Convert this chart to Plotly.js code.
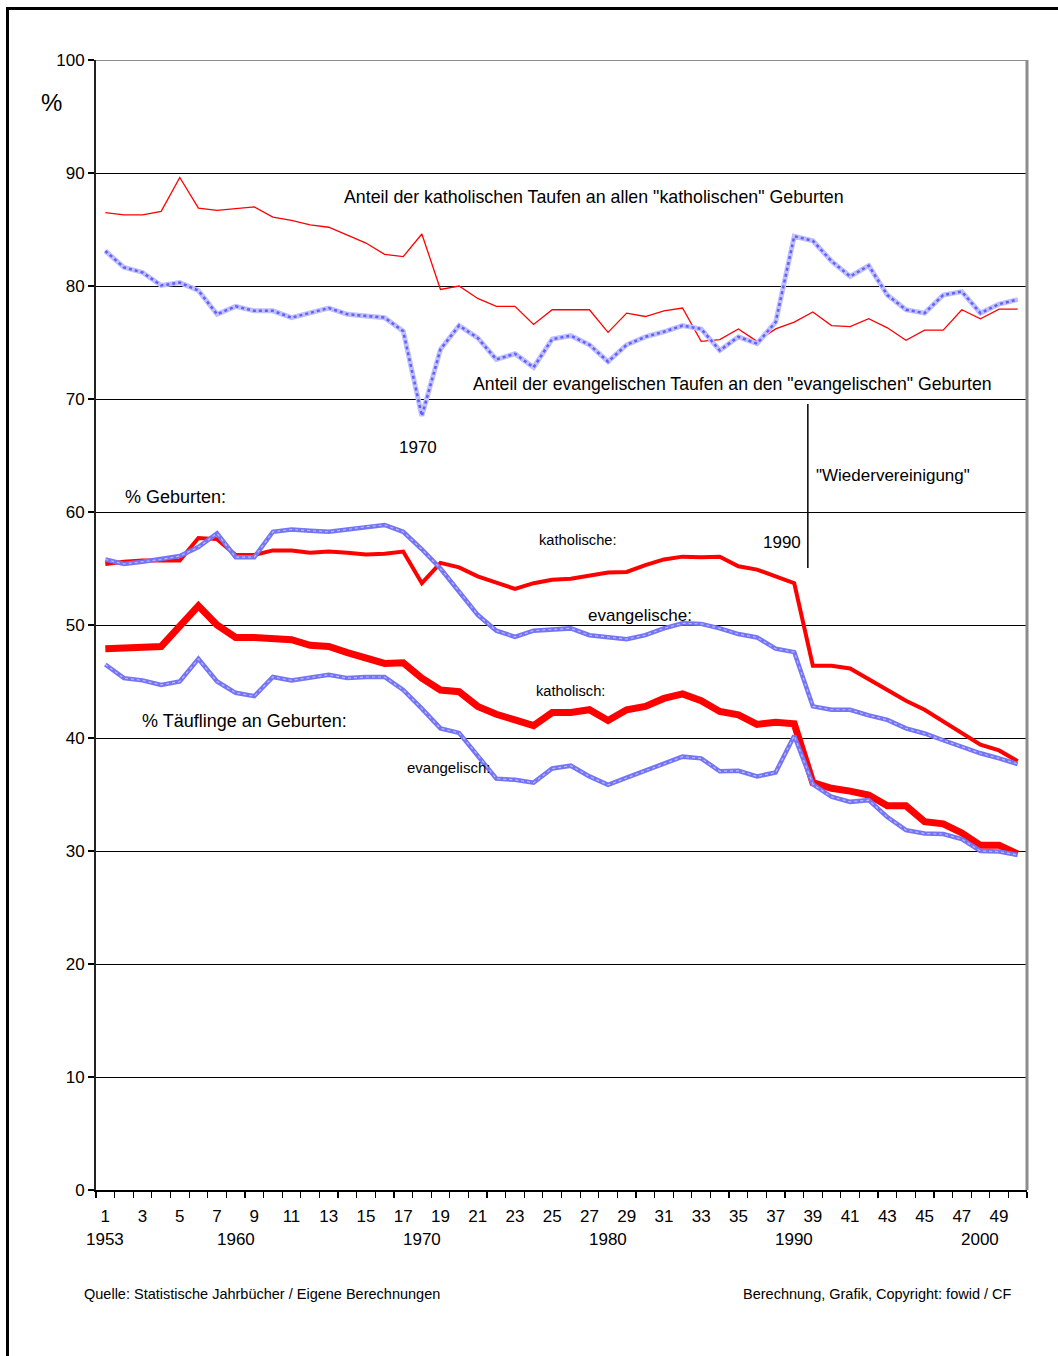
<!DOCTYPE html>
<html>
<head>
<meta charset="utf-8">
<script src="https://cdn.plot.ly/plotly-3.0.1.min.js"></script>
<style>
  html, body { margin: 0; padding: 0; background: #fff; }
  #wrap { position: relative; width: 1058px; height: 1356px; overflow: hidden; }
  #chart { position: absolute; left: 0; top: 0; width: 1058px; height: 1356px; }
  #frame { position: absolute; left: 6px; top: 7px; width: 1200px; height: 1500px;
           border-left: 3px solid #000; border-top: 3px solid #000; pointer-events: none; }
</style>
</head>
<body>
<div id="wrap">
  <div id="chart"></div>
  <div id="frame"></div>
</div>
<script>
// Categories (sequential year index, 1 = 1953)
const categories = [1,2,3,4,5,6,7,8,9,10,11,12,13,14,15,16,17,18,19,20,
                    21,22,23,24,25,26,27,28,29,30,31,32,33,34,35,36,37,38,39,40,
                    41,42,43,44,45,46,47,48,49,50];
const tickNumbers = [1,3,5,7,9,11,13,15,17,19,21,23,25,27,29,31,33,35,37,39,41,43,45,47,49];
const yearCats = [1,8,18,28,38,48];
const yearLabels = ["1953","1960","1970","1980","1990","2000"];

// Anteil der katholischen Taufen an allen "katholischen" Geburten
const kathTaufAnteil = [86.5,86.3,86.3,86.6,89.6,86.9,86.7,86.85,87.0,86.1,
                        85.8,85.4,85.2,84.5,83.8,82.8,82.6,84.6,79.7,80.0,
                        78.9,78.2,78.2,76.6,77.9,77.9,77.9,75.9,77.6,77.3,
                        77.8,78.05,75.1,75.25,76.2,75.1,76.2,76.8,77.7,76.5,
                        76.4,77.1,76.3,75.2,76.1,76.1,77.9,77.1,77.95,77.95];
// Anteil der evangelischen Taufen an den "evangelischen" Geburten
const evTaufAnteil = [83.1,81.65,81.2,80.05,80.3,79.6,77.5,78.2,77.8,77.8,
                      77.2,77.6,78.05,77.5,77.35,77.2,76.0,68.5,74.4,76.5,
                      75.4,73.5,74.0,72.8,75.3,75.6,74.8,73.3,74.8,75.5,
                      75.95,76.5,76.2,74.3,75.5,74.9,76.8,84.4,84.0,82.2,
                      80.85,81.8,79.2,77.9,77.6,79.2,79.5,77.6,78.4,78.8];
// % Geburten: katholische
const kathGeburten = [55.4,55.6,55.7,55.7,55.7,57.7,57.6,56.2,56.2,56.6,
                      56.6,56.4,56.5,56.4,56.25,56.3,56.5,53.7,55.5,55.1,
                      54.3,53.75,53.2,53.7,54.0,54.1,54.4,54.65,54.7,55.3,
                      55.8,56.05,56.0,56.05,55.2,54.9,54.3,53.7,46.4,46.4,
                      46.15,45.2,44.3,43.3,42.5,41.45,40.4,39.4,38.9,37.95];
// % Geburten: evangelische
const evGeburten = [55.8,55.4,55.6,55.8,56.1,56.9,58.1,56.0,56.0,58.25,
                    58.45,58.35,58.25,58.45,58.7,58.85,58.25,56.7,55.0,53.0,
                    50.9,49.5,48.95,49.5,49.6,49.7,49.1,48.9,48.75,49.1,
                    49.7,50.15,50.1,49.7,49.2,48.9,47.9,47.6,42.8,42.5,
                    42.5,42.0,41.6,40.85,40.4,39.8,39.2,38.65,38.2,37.7];
// % Täuflinge an Geburten: katholisch
const kathTaeuflinge = [47.9,47.95,48.1,48.1,49.9,51.7,50.0,48.9,48.9,48.85,
                        48.7,48.2,48.1,47.55,47.05,46.6,46.65,45.3,44.25,44.1,
                        42.8,42.1,41.6,41.1,42.25,42.25,42.5,41.55,42.5,42.8,
                        43.5,43.9,43.3,42.35,42.05,41.2,41.4,41.25,36.05,35.55,
                        35.3,34.95,34.0,34.0,32.6,32.4,31.6,30.5,30.5,29.75];
// % Täuflinge an Geburten: evangelisch
const evTaeuflinge = [46.5,45.3,45.1,44.7,45.0,47.0,45.0,44.0,43.7,45.4,
                      45.1,45.35,45.6,45.3,45.4,45.4,44.25,42.6,40.85,40.45,
                      38.5,36.4,36.3,36.05,37.3,37.55,36.6,35.85,36.5,37.1,
                      37.7,38.35,38.2,37.05,37.1,36.6,36.95,40.2,35.9,34.8,
                      34.35,34.5,33.0,31.85,31.55,31.5,31.05,30.0,29.95,29.65];

const RED = '#ff0000';
const BLUE = '#7474f6';
const FONT = 'Liberation Sans, Arial, sans-serif';

function line(y, color, width, dash) {
  return { x: categories, y: y, type: 'scatter', mode: 'lines',
           line: { color: color, width: width, dash: dash || 'solid' },
           hoverinfo: 'skip', showlegend: false };
}

const traces = [
  line(kathTaufAnteil, RED, 1.3),
  line(kathGeburten, RED, 4),
  line(kathTaeuflinge, RED, 7),
  line(evTaufAnteil, '#c0c0ff', 5),
  line(evTaufAnteil, '#6060ff', 2.5, 'dot'),
  line(evGeburten, BLUE, 4.5),
  line(evGeburten, 'rgba(255,255,255,0.5)', 1.2, 'dot'),
  line(evTaeuflinge, BLUE, 4.5),
  line(evTaeuflinge, 'rgba(255,255,255,0.5)', 1.2, 'dot')
];

function ann(text, x, y, size, xanchor) {
  return { text: text, x: x, y: y, xref: 'x', yref: 'y', showarrow: false,
           xanchor: xanchor || 'center', yanchor: 'middle',
           font: { family: FONT, size: size, color: '#000' } };
}

const annotations = [
  ann('Anteil der katholischen Taufen an allen "katholischen" Geburten', 27.27, 87.9, 17.8),
  ann('Anteil der evangelischen Taufen an den "evangelischen" Geburten', 34.7, 71.35, 17.7),
  ann('1970', 17.81, 65.75, 17),
  ann('"Wiedervereinigung"', 43.3, 63.2, 17),
  ann('1990', 37.33, 57.26, 17),
  ann('% Geburten:', 1.95, 61.33, 18, 'left'),
  ann('katholische:', 26.41, 57.52, 14.7),
  ann('evangelische:', 29.69, 50.88, 17),
  ann('katholisch:', 25.98, 44.16, 14.7),
  ann('% Täuflinge an Geburten:', 2.87, 41.5, 18, 'left'),
  ann('evangelisch:', 17.1, 37.35, 15, 'left'),
  { text: '%', xref: 'paper', yref: 'y', x: -0.0473, y: 96.2, showarrow: false,
    xanchor: 'center', yanchor: 'middle', font: { family: FONT, size: 24, color: '#000' } },
  { text: 'Quelle: Statistische Jahrbücher / Eigene Berechnungen', xref: 'paper', yref: 'paper',
    x: -0.015, y: -0.092, showarrow: false, xanchor: 'left', yanchor: 'middle',
    font: { family: FONT, size: 14.5, color: '#000' } },
  { text: 'Berechnung, Grafik, Copyright: fowid / CF', xref: 'paper', yref: 'paper',
    x: 0.986, y: -0.092, showarrow: false, xanchor: 'right', yanchor: 'middle',
    font: { family: FONT, size: 14.5, color: '#000' } }
];
yearCats.forEach((c, i) => {
  annotations.push({ text: yearLabels[i], x: c, y: -0.0434, xref: 'x', yref: 'paper',
    showarrow: false, xanchor: 'center', yanchor: 'middle',
    font: { family: FONT, size: 17, color: '#000' } });
});

const layout = {
  width: 1058, height: 1356,
  margin: { l: 96, r: 31, t: 60, b: 166, pad: 0 },
  paper_bgcolor: '#fff', plot_bgcolor: '#fff',
  showlegend: false,
  xaxis: {
    range: [0.5, 50.5], showgrid: false, zeroline: false,
    tickmode: 'array', tickvals: tickNumbers, ticktext: tickNumbers.map(String),
    ticks: 'outside', ticklen: 6, tickcolor: 'rgba(0,0,0,0)', ticklabelstandoff: 4,
    minor: { tick0: 0.5, dtick: 1, ticks: 'outside', ticklen: 6, tickcolor: '#000', tickwidth: 1.2, showgrid: false },
    showline: true, linecolor: '#000', linewidth: 1.5,
    tickfont: { family: FONT, size: 17, color: '#000' }
  },
  yaxis: {
    range: [0, 100], dtick: 10, tick0: 0,
    showgrid: true, gridcolor: '#000', gridwidth: 1, zeroline: false,
    ticks: 'outside', ticklen: 6, tickcolor: '#000', tickwidth: 1.2,
    showline: true, linecolor: '#222', linewidth: 2,
    tickfont: { family: FONT, size: 17, color: '#000' }
  },
  annotations: annotations,
  shapes: [
    { type: 'line', xref: 'paper', yref: 'y', x0: 0, x1: 1, y0: 100, y1: 100,
      line: { color: '#8c8c8c', width: 2 } },
    { type: 'line', xref: 'paper', yref: 'paper', x0: 1, x1: 1, y0: 0, y1: 1,
      line: { color: '#8c8c8c', width: 3 } },
    { type: 'line', xref: 'x', yref: 'y', x0: 38.73, x1: 38.73, y0: 69.56, y1: 55.04,
      line: { color: '#000', width: 1.5 } }
  ]
};

Plotly.newPlot('chart', traces, layout, { staticPlot: true, displayModeBar: false });
</script>
</body>
</html>
